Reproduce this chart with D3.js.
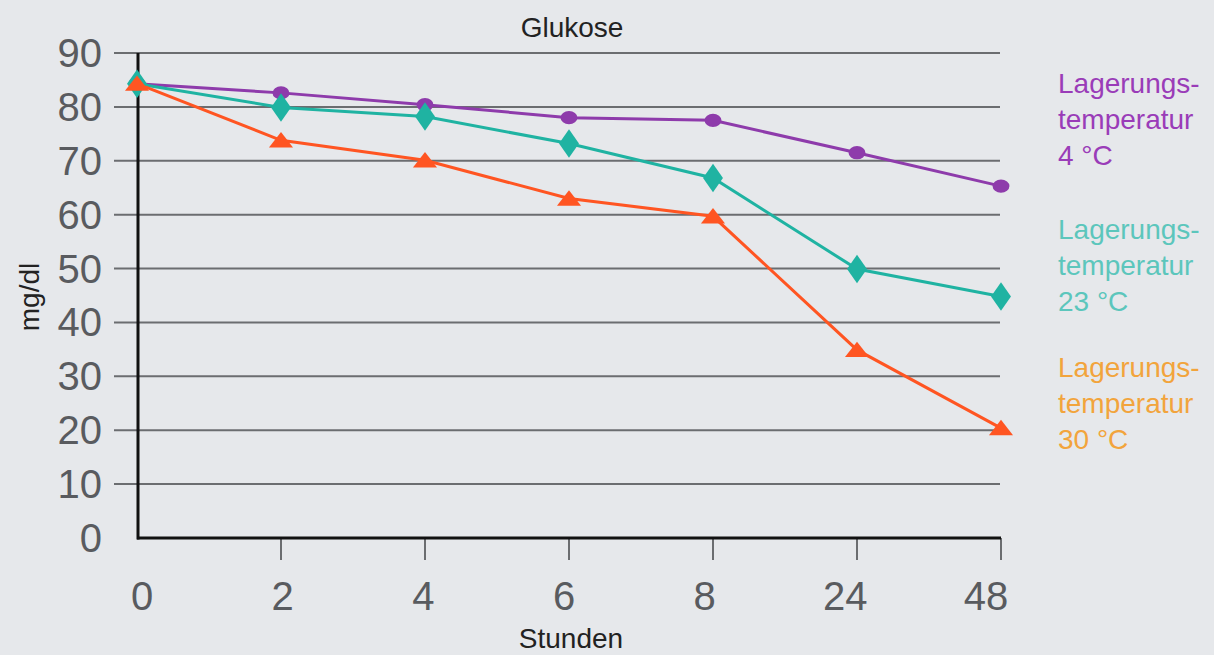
<!DOCTYPE html>
<html>
<head>
<meta charset="utf-8">
<script src="https://cdn.jsdelivr.net/npm/d3@7"></script>
<style>
  body { margin: 0; background: #e6e8eb; }
  svg { display: block; }
  text { font-family: "Liberation Sans", Arial, sans-serif; }
</style>
</head>
<body>
<svg id="chart"></svg>
<script>
// data
const hours = ["0", "2", "4", "6", "8", "24", "48"];
const temp4 = [84.3, 82.6, 80.4, 78.0, 77.5, 71.5, 65.3];
const temp23 = [84.3, 79.9, 78.2, 73.2, 66.8, 49.9, 44.8];
const temp30 = [84.3, 73.8, 70.1, 63.0, 59.7, 34.9, 20.4];
const yTicks = [0, 10, 20, 30, 40, 50, 60, 70, 80, 90];
const legendLabels = [
  ["Lagerungs-", "temperatur", "4 °C"],
  ["Lagerungs-", "temperatur", "23 °C"],
  ["Lagerungs-", "temperatur", "30 °C"]
];

const width = 1214, height = 655;
const x0 = 137, x1 = 1001, yTop = 53, yBottom = 538;

const series = [
  { values: temp4, line: "#8e3bab", text: "#9a3cb8", shape: d3.symbolCircle, size: 170, legendY: 93 },
  { values: temp23, line: "#1fb3a2", text: "#5cc6bc", shape: d3.symbolDiamond, size: 260, legendY: 239 },
  { values: temp30, line: "#ff5522", text: "#f2a43c", shape: d3.symbolTriangle, size: 190, legendY: 377 }
];

const svg = d3.select("#chart").attr("width", width).attr("height", height);

const xScale = d3.scalePoint().domain(hours).range([x0, x1]);
// the tick labels sit on a slightly tighter spacing than the ticks
const xLabelScale = d3.scalePoint().domain(hours).range([142, 986]);
const yScale = d3.scaleLinear().domain([0, 90]).range([yBottom, yTop]);

// gridlines
svg.append("g")
  .selectAll("line")
  .data(yTicks.filter(d => d > 0))
  .join("line")
  .attr("x1", 114)
  .attr("x2", 1000)
  .attr("y1", d => yScale(d))
  .attr("y2", d => yScale(d))
  .attr("stroke", "#6b6d70")
  .attr("stroke-width", 2);

// y tick labels
svg.append("g")
  .selectAll("text")
  .data(yTicks)
  .join("text")
  .attr("x", 102)
  .attr("y", d => yScale(d) + 14)
  .attr("text-anchor", "end")
  .attr("font-size", 40)
  .attr("fill", "#595b5f")
  .text(d => d);

// x axis ticks + labels
const xAxis = svg.append("g").attr("transform", `translate(0,${yBottom})`);
xAxis.selectAll("line")
  .data(hours.slice(1))
  .join("line")
  .attr("x1", d => xScale(d))
  .attr("x2", d => xScale(d))
  .attr("y1", 0)
  .attr("y2", 22)
  .attr("stroke", "#6b6d70")
  .attr("stroke-width", 2);
xAxis.selectAll("text")
  .data(hours)
  .join("text")
  .attr("x", d => xLabelScale(d))
  .attr("y", 72)
  .attr("text-anchor", "middle")
  .attr("font-size", 40)
  .attr("fill", "#595b5f")
  .text(d => d);

// axis lines
svg.append("line")
  .attr("x1", x0 + 1).attr("x2", x0 + 1)
  .attr("y1", yTop).attr("y2", yBottom + 1.5)
  .attr("stroke", "#111").attr("stroke-width", 3);
svg.append("line")
  .attr("x1", x0).attr("x2", x1)
  .attr("y1", yBottom).attr("y2", yBottom)
  .attr("stroke", "#111").attr("stroke-width", 3);

// lines and markers
const line = d3.line()
  .x((d, i) => xScale(hours[i]))
  .y(d => yScale(d));

series.forEach(s => {
  svg.append("path")
    .datum(s.values)
    .attr("d", line)
    .attr("fill", "none")
    .attr("stroke", s.line)
    .attr("stroke-width", 3);
});

series.forEach(s => {
  const sym = d3.symbol().type(s.shape).size(s.size);
  svg.append("g")
    .selectAll("path")
    .data(s.values)
    .join("path")
    .attr("d", sym)
    .attr("transform", (d, i) => {
      let dy = s.shape === d3.symbolTriangle ? 2 : 0;
      let sc = "";
      if (s.shape === d3.symbolDiamond) sc = "scale(1.15,0.95)";
      if (s.shape === d3.symbolCircle) sc = "scale(1.15,0.9)";
      if (s.shape === d3.symbolTriangle) sc = "scale(1.15,0.85)";
      return `translate(${xScale(hours[i])},${yScale(d) + dy}) ${sc}`;
    })
    .attr("fill", s.line);
});

// titles
svg.append("text")
  .attr("x", 572).attr("y", 37)
  .attr("text-anchor", "middle")
  .attr("font-size", 28)
  .attr("fill", "#222")
  .text("Glukose");

svg.append("text")
  .attr("x", 571).attr("y", 648)
  .attr("text-anchor", "middle")
  .attr("font-size", 28)
  .attr("fill", "#222")
  .text("Stunden");

svg.append("text")
  .attr("transform", "translate(39,297) rotate(-90)")
  .attr("text-anchor", "middle")
  .attr("font-size", 28)
  .attr("fill", "#222")
  .text("mg/dl");

// legend
series.forEach((s, k) => {
  svg.append("text")
    .attr("x", 1058)
    .attr("y", s.legendY)
    .attr("font-size", 28)
    .attr("fill", s.text)
    .selectAll("tspan")
    .data(legendLabels[k])
    .join("tspan")
    .attr("x", 1058)
    .attr("dy", (d, i) => i === 0 ? 0 : 36)
    .text(d => d);
});
</script>
</body>
</html>
